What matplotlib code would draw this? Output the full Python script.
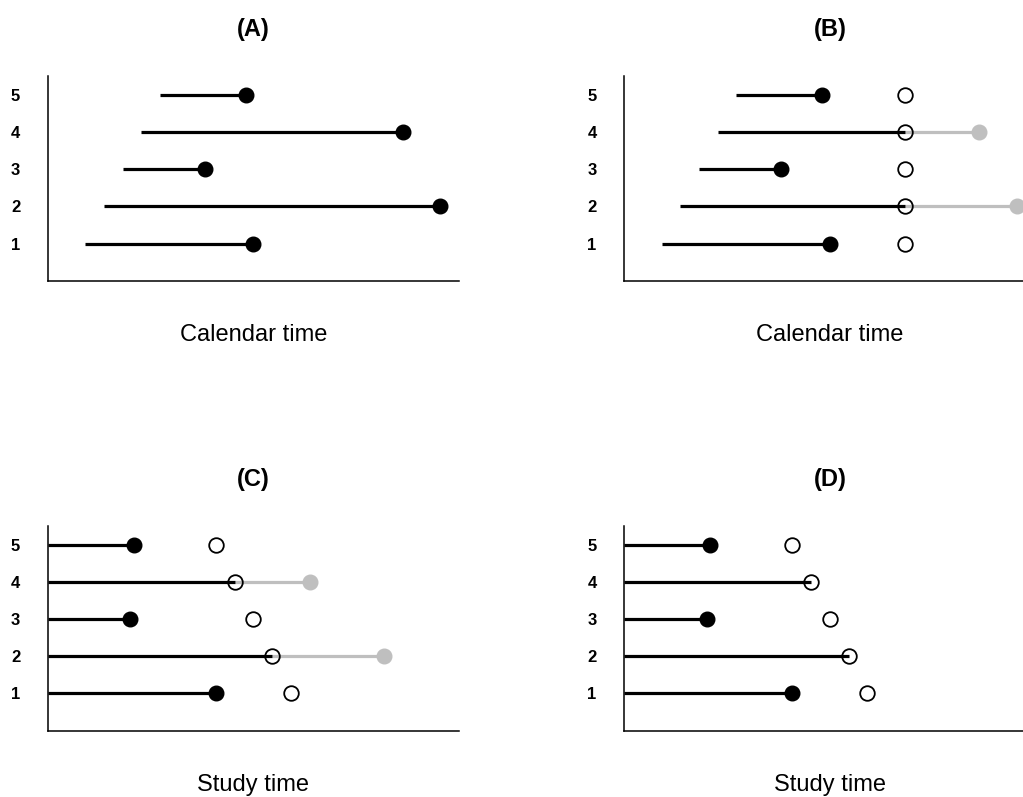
import matplotlib
matplotlib.use("Agg")
import matplotlib.pyplot as plt
import numpy as np

plt.rcParams["font.family"] = ["Liberation Sans", "DejaVu Sans"]

# subjects 1..5
subjects = [1, 2, 3, 4, 5]
# calendar time: entry and event/outcome time
entry = [1.0, 1.5, 2.0, 2.5, 3.0]
exit_time = [5.5, 10.5, 4.2, 9.5, 5.3]
# administrative censoring date (calendar time)
admin_cut = 7.5

BLACK = "black"
GREY = "#bfbfbf"
LW = 2.3
MS = 10.5


def style_axes(ax, title, xlabel):
    ax.set_xlim(0, 11)
    ax.set_ylim(0, 5.5)
    ax.set_yticks(subjects)
    ax.set_yticklabels([str(s) for s in subjects], fontweight="bold", fontsize=12)
    ax.set_xticks([])
    ax.tick_params(axis="y", length=0, pad=20)
    for side in ["top", "right"]:
        ax.spines[side].set_visible(False)
    ax.spines["left"].set_linewidth(1.1)
    ax.spines["bottom"].set_linewidth(1.1)
    ax.set_title(title, fontweight="bold", fontsize=17, pad=29)
    ax.set_xlabel(xlabel, fontsize=17, labelpad=31)


fig = plt.figure(figsize=(10.23, 7.97), dpi=100)
ax_a = fig.add_axes([0.0469, 0.6474, 0.4018, 0.2572])
ax_b = fig.add_axes([0.6103, 0.6474, 0.4018, 0.2572])
ax_c = fig.add_axes([0.0469, 0.0832, 0.4018, 0.2568])
ax_d = fig.add_axes([0.6103, 0.0832, 0.4018, 0.2568])

# (A) calendar time, full follow-up
for s, a, b in zip(subjects, entry, exit_time):
    ax_a.plot([a, b], [s, s], color=BLACK, lw=LW, solid_capstyle="butt", zorder=2)
    ax_a.plot(b, s, "o", color=BLACK, ms=MS, zorder=3)

# (B) calendar time, admin censoring
for s, a, b in zip(subjects, entry, exit_time):
    if b > admin_cut:
        ax_b.plot([a, admin_cut], [s, s], color=BLACK, lw=LW, solid_capstyle="butt", zorder=2)
        ax_b.plot([admin_cut, b], [s, s], color=GREY, lw=LW, solid_capstyle="butt", zorder=1)
        ax_b.plot(b, s, "o", color=GREY, ms=MS, zorder=3, clip_on=False)
    else:
        ax_b.plot([a, b], [s, s], color=BLACK, lw=LW, solid_capstyle="butt", zorder=2)
        ax_b.plot(b, s, "o", color=BLACK, ms=MS, zorder=3)
    ax_b.plot(admin_cut, s, "o", mfc="none", mec=BLACK, mew=1.3, ms=MS, zorder=4)

# (C) and (D) study time
for ax, show_grey in [(ax_c, True), (ax_d, False)]:
    for s, a, b in zip(subjects, entry, exit_time):
        dur = b - a
        cut = admin_cut - a
        if dur > cut:
            ax.plot([0, cut], [s, s], color=BLACK, lw=LW, solid_capstyle="butt", zorder=2)
            if show_grey:
                ax.plot([cut, dur], [s, s], color=GREY, lw=LW, solid_capstyle="butt", zorder=1)
                ax.plot(dur, s, "o", color=GREY, ms=MS, zorder=3)
        else:
            ax.plot([0, dur], [s, s], color=BLACK, lw=LW, solid_capstyle="butt", zorder=2)
            ax.plot(dur, s, "o", color=BLACK, ms=MS, zorder=3)
        ax.plot(cut, s, "o", mfc="none", mec=BLACK, mew=1.3, ms=MS, zorder=4)

style_axes(ax_a, "(A)", "Calendar time")
style_axes(ax_b, "(B)", "Calendar time")
style_axes(ax_c, "(C)", "Study time")
style_axes(ax_d, "(D)", "Study time")

fig.savefig("out.png", dpi=100)
